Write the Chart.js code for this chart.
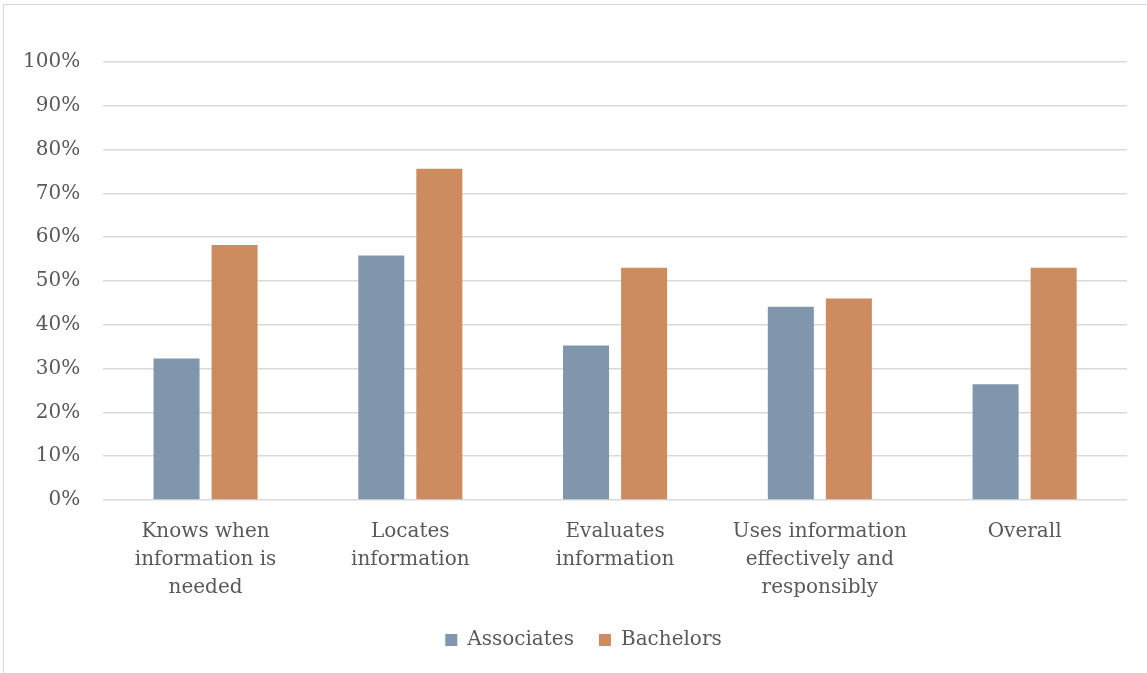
<!DOCTYPE html>
<html>
<head>
<meta charset="utf-8">
<script src="https://cdn.jsdelivr.net/npm/chart.js"></script>
<style>
  html, body { margin: 0; padding: 0; background: #fff; }
  #frame {
    position: absolute; left: 3px; top: 4px; width: 1150px; height: 680px;
    border: 1px solid #d9d9d9; box-sizing: border-box;
  }
  #wrap { position: absolute; left: 0; top: 0; width: 1147px; height: 673px; }
</style>
</head>
<body>
<div id="frame"></div>
<div id="wrap"><canvas id="chart"></canvas></div>
<script>
const categories = [
  ['Knows when', 'information is', 'needed'],
  ['Locates', 'information'],
  ['Evaluates', 'information'],
  ['Uses information', 'effectively and', 'responsibly'],
  ['Overall']
]
const associates = [32.3, 55.8, 35.3, 44.1, 26.4]
const bachelors = [58.2, 75.6, 53.0, 46.0, 53.0]
const yTicks = [0, 10, 20, 30, 40, 50, 60, 70, 80, 90, 100]

const textColor = '#595959'
const fontFamily = '"DejaVu Serif", "Liberation Serif", serif'

// legend sits a little right of the canvas centre in the original
const shiftLegend = {
  id: 'shiftLegend',
  afterLayout: (chart) => {
    chart.legend.left += 20
    chart.legend.right += 20
  }
}

let canvas = document.getElementById('chart')
new Chart(canvas, {
  type: 'bar',
  data: {
    labels: categories,
    datasets: [
      {
        label: 'Associates',
        data: associates,
        backgroundColor: '#7f96ad',
        categoryPercentage: 0.567,
        barPercentage: 0.793,
      },
      {
        label: 'Bachelors',
        data: bachelors,
        backgroundColor: '#cd8c5f',
        categoryPercentage: 0.567,
        barPercentage: 0.793,
      }
    ],
  },
  plugins: [shiftLegend],
  options: {
    responsive: true,
    maintainAspectRatio: false,
    animation: false,
    layout: { padding: { top: 62, left: 0, right: 20, bottom: 13 } },
    plugins: {
      legend: {
        position: 'bottom',
        labels: {
          color: textColor,
          font: { family: fontFamily, size: 20 },
          boxWidth: 12,
          boxHeight: 12,
          padding: 25,
        }
      },
      tooltip: { enabled: false }
    },
    scales: {
      x: {
        grid: { display: false },
        border: { display: false },
        // pull the plot down a bit, labels follow it
        afterFit: (scale) => { scale.height -= 7 },
        ticks: {
          color: textColor,
          font: { family: fontFamily, size: 20, lineHeight: 1.4 },
          padding: 10,
          maxRotation: 0,
          autoSkip: false,
        }
      },
      y: {
        min: 0,
        max: 100,
        afterBuildTicks: (axis) => { axis.ticks = yTicks.map(v => ({ value: v })) },
        grid: { color: '#d9d9d9', lineWidth: 1.5, drawTicks: false },
        border: { display: false },
        ticks: {
          color: textColor,
          font: { family: fontFamily, size: 20 },
          padding: 23,
          callback: (v) => v + '%',
        }
      }
    }
  }
})
</script>
</body>
</html>
